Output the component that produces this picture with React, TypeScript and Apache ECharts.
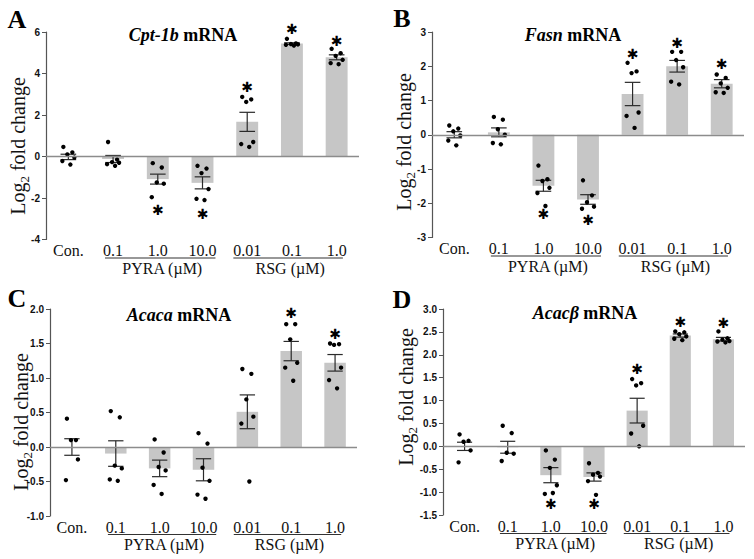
import React, { useEffect, useRef } from 'react';
import * as echarts from 'echarts';

// ---------- data ----------
const categories = ['Con.', '0.1', '1.0', '10.0', '0.01', '0.1', '1.0'];
const groupNames = ['PYRA (µM)', 'RSG (µM)'];
const groupSpans = [[1, 3], [4, 6]];

// A: Cpt-1b
const cptMeans = [-0.02, -0.12, -1.09, -1.27, 1.67, 5.44, 4.78];
const cptSems = [0.13, 0.17, 0.24, 0.29, 0.46, 0.04, 0.12];
const cptPoints = [
  [0.46, 0.2, 0.1, -0.05, -0.22, -0.39],
  [0.7, -0.15, -0.27, -0.3, -0.37, -0.45],
  [-0.32, -0.53, -1.25, -1.31, -1.96],
  [-0.45, -0.58, -0.8, -1.57, -2.04, -2.1],
  [2.87, 2.75, 2.63, 0.7, 0.6, 0.46],
  [5.67, 5.45, 5.42, 5.4, 5.38, 5.35],
  [5.19, 4.98, 4.85, 4.66, 4.5, 4.45],
];
const cptStars = [null, null, -2.57, -2.76, 3.33, 6.14, 5.59];

// B: Fasn
const fasnMeans = [0.0, 0.07, -1.49, -1.89, 1.19, 2.0, 1.49];
const fasnSems = [0.09, 0.13, 0.16, 0.14, 0.34, 0.17, 0.12];
const fasnPoints = [
  [0.27, 0.18, 0.1, -0.02, -0.17, -0.31],
  [0.52, 0.44, 0.16, 0.0, -0.24, -0.28],
  [-0.9, -1.3, -1.35, -1.55, -1.7, -2.08],
  [-1.33, -1.77, -1.97, -2.1, -2.16],
  [2.1, 1.85, 1.8, 0.65, 0.55, 0.2],
  [2.42, 2.42, 2.18, 1.97, 1.55, 1.47],
  [1.76, 1.66, 1.5, 1.37, 1.24, 1.22],
];
const fasnStars = [null, null, -2.32, -2.5, 2.36, 2.67, 2.07];

// C: Acaca
const acacaMeans = [0.0, -0.095, -0.31, -0.33, 0.51, 1.39, 1.22];
const acacaSems = [0.12, 0.185, 0.12, 0.16, 0.245, 0.14, 0.12];
const acacaPoints = [
  [0.41, 0.1, 0.1, -0.18, -0.48],
  [0.52, 0.43, -0.27, -0.31, -0.47, -0.49],
  [0.11, -0.08, -0.29, -0.34, -0.55, -0.68],
  [0.2, 0.05, -0.3, -0.49, -0.69, -0.75],
  [1.13, 1.06, 0.69, 0.44, 0.34, -0.5],
  [1.78, 1.78, 1.56, 1.22, 1.15, 0.96],
  [1.5, 1.49, 1.48, 1.15, 0.97, 0.85],
];
const acacaStars = [null, null, null, null, null, 1.94, 1.64];

// D: Acacb
const acacbMeans = [0.0, -0.02, -0.63, -0.67, 0.78, 2.42, 2.34];
const acacbSems = [0.09, 0.13, 0.165, 0.09, 0.27, 0.035, 0.04];
const acacbPoints = [
  [0.26, 0.12, 0.1, -0.09, -0.35],
  [0.45, 0.29, -0.14, -0.16, -0.32],
  [-0.09, -0.29, -0.47, -0.85, -1.04, -1.02],
  [-0.37, -0.58, -0.62, -0.66, -0.76, -1.06],
  [1.47, 1.38, 1.33, 0.45, 0.28, 0.0],
  [2.51, 2.49, 2.45, 2.4, 2.35, 2.32],
  [2.51, 2.36, 2.33, 2.3, 2.29, 2.27],
];
const acacbStars = [null, null, -1.25, -1.27, 1.69, 2.71, 2.69];

// ---------- layout ----------
const panels = [
  {
    letter: 'A', gene: 'Cpt-1b', means: cptMeans, sems: cptSems, points: cptPoints, stars: cptStars,
    min: -4, max: 6, interval: 2, dec: 0,
    grid: { left: 46, top: 32, width: 313, height: 207.5 },
    letterPos: [17, 19], titlePos: [183, 35], yNamePos: [18, 146],
  },
  {
    letter: 'B', gene: 'Fasn', means: fasnMeans, sems: fasnSems, points: fasnPoints, stars: fasnStars,
    min: -3, max: 3, interval: 1, dec: 0,
    grid: { left: 432, top: 32, width: 312, height: 205.5 },
    letterPos: [402, 18], titlePos: [573, 35], yNamePos: [404, 142],
  },
  {
    letter: 'C', gene: 'Acaca', means: acacaMeans, sems: acacaSems, points: acacaPoints, stars: acacaStars,
    min: -1, max: 2, interval: 0.5, dec: 1,
    grid: { left: 50, top: 309, width: 307, height: 207 },
    letterPos: [17, 298], titlePos: [179, 315], yNamePos: [21, 422],
  },
  {
    letter: 'D', gene: 'Acacβ', means: acacbMeans, sems: acacbSems, points: acacbPoints, stars: acacbStars,
    min: -1.5, max: 3, interval: 0.5, dec: 1,
    grid: { left: 443, top: 309, width: 302, height: 206 },
    letterPos: [402, 299], titlePos: [585, 313], yNamePos: [406, 397],
  },
];

const jitter = [-5, 4, -1, 6, -6, 2];
const SERIF = '"Liberation Serif", "Times New Roman", serif';
const SANS = '"Liberation Sans", Arial, sans-serif';

function buildOption() {
  const grid: any[] = [];
  const xAxis: any[] = [];
  const yAxis: any[] = [];
  const series: any[] = [];
  const graphic: any[] = [];

  panels.forEach((p, gi) => {
    grid.push({ ...p.grid, containLabel: false, outerBoundsMode: 'none' });
    xAxis.push({
      gridIndex: gi, type: 'category', data: categories,
      axisLine: { show: false, onZero: false }, axisTick: { show: false },
      axisLabel: { interval: 0, fontFamily: SERIF, fontSize: 16, color: '#111', margin: 3 },
      splitLine: { show: false },
    });
    yAxis.push({
      gridIndex: gi, type: 'value', min: p.min, max: p.max, interval: p.interval,
      axisLine: { show: true, onZero: false, lineStyle: { color: '#555', width: 1.2 } },
      axisTick: { show: true, length: 4, lineStyle: { color: '#555', width: 1 } },
      axisLabel: {
        fontFamily: SANS, fontWeight: 'bold', fontSize: 10, color: '#111', margin: 6,
        formatter: (v: number) => (Math.abs(v) < 1e-9 ? 0 : v).toFixed(p.dec),
      },
      splitLine: { show: false },
    });

    series.push({
      type: 'bar', xAxisIndex: gi, yAxisIndex: gi, data: p.means, barWidth: '49%',
      itemStyle: { color: '#c6c6c6' }, silent: true, z: 1,
      markLine: {
        silent: true, symbol: 'none', label: { show: false },
        lineStyle: { color: '#8c8c8c', width: 1.3, type: 'solid' },
        data: [{ yAxis: 0 }],
      },
    });

    series.push({
      type: 'custom', xAxisIndex: gi, yAxisIndex: gi, z: 3, silent: true,
      data: p.means.map((m, i) => [i, m - p.sems[i], m + p.sems[i]]),
      encode: { x: 0, y: [1, 2] },
      renderItem: (params: any, api: any) => {
        const lo = api.coord([api.value(0), api.value(1)]);
        const hi = api.coord([api.value(0), api.value(2)]);
        const band = api.size([1, 0])[0];
        const h = band * 0.175;
        const st = { stroke: '#2a2a2a', lineWidth: 1.2 };
        return {
          type: 'group',
          children: [
            { type: 'line', shape: { x1: lo[0], y1: lo[1], x2: hi[0], y2: hi[1] }, style: st },
            { type: 'line', shape: { x1: lo[0] - h, y1: lo[1], x2: lo[0] + h, y2: lo[1] }, style: st },
            { type: 'line', shape: { x1: hi[0] - h, y1: hi[1], x2: hi[0] + h, y2: hi[1] }, style: st },
          ],
        };
      },
    });

    const dots: any[] = [];
    p.points.forEach((arr, ci) => arr.forEach((v, k) => dots.push([ci, v, k])));
    series.push({
      type: 'custom', xAxisIndex: gi, yAxisIndex: gi, z: 4, silent: true,
      data: dots, encode: { x: 0, y: 1 },
      renderItem: (params: any, api: any) => {
        const c = api.coord([api.value(0), api.value(1)]);
        const k = api.value(2);
        return {
          type: 'circle',
          shape: { cx: c[0] + jitter[k % jitter.length], cy: c[1], r: 2.2 },
          style: { fill: '#000' },
        };
      },
    });

    const stars: any[] = [];
    p.stars.forEach((s, ci) => { if (s !== null) stars.push([ci, s]); });
    series.push({
      type: 'custom', xAxisIndex: gi, yAxisIndex: gi, z: 5, silent: true, clip: false,
      data: stars, encode: { x: 0, y: 1 },
      renderItem: (params: any, api: any) => {
        const c = api.coord([api.value(0), api.value(1)]);
        return {
          type: 'text',
          style: {
            text: '✱', x: c[0], y: c[1], fill: '#000',
            fontSize: 14, fontFamily: '"DejaVu Sans", sans-serif',
            align: 'center', verticalAlign: 'middle',
          },
        };
      },
    });

    series.push({
      type: 'custom', xAxisIndex: gi, yAxisIndex: gi, z: 5, silent: true, clip: false,
      data: [[0, 0]], encode: { x: 0, y: 1 },
      renderItem: (params: any, api: any) => {
        const cs = params.coordSys;
        const band = api.size([1, 0])[0];
        const bottom = cs.y + cs.height;
        const children: any[] = [];
        const ext = [[-0.18, 0.29], [-0.31, 0.14]];
        groupSpans.forEach((span, gIdx) => {
          const x1 = api.coord([span[0], 0])[0] + ext[gIdx][0] * band;
          const x2 = api.coord([span[1], 0])[0] + ext[gIdx][1] * band;
          children.push({
            type: 'line', shape: { x1, y1: bottom + 18.5, x2, y2: bottom + 18.5 },
            style: { stroke: '#333', lineWidth: 1.2 },
          });
          children.push({
            type: 'text',
            style: {
              text: groupNames[gIdx], x: (x1 + x2) / 2 + 2, y: bottom + 28.5, fill: '#111',
              fontSize: 16, fontFamily: SERIF, align: 'center', verticalAlign: 'middle',
            },
          });
        });
        return { type: 'group', children };
      },
    });

    graphic.push({
      type: 'text', x: p.letterPos[0], y: p.letterPos[1],
      style: {
        text: p.letter, fill: '#000', font: `bold 26px ${SERIF}`,
        align: 'center', verticalAlign: 'middle',
      },
    });
    graphic.push({
      type: 'text', x: p.titlePos[0], y: p.titlePos[1],
      style: {
        text: `{i|${p.gene}}{n| mRNA}`, align: 'center', verticalAlign: 'middle',
        rich: {
          i: { fontStyle: 'italic', fontWeight: 'bold', fontSize: 18, fontFamily: SERIF, fill: '#000' },
          n: { fontWeight: 'bold', fontSize: 18, fontFamily: SERIF, fill: '#000' },
        },
      },
    });
    graphic.push({
      type: 'text', x: p.yNamePos[0], y: p.yNamePos[1], rotation: Math.PI / 2,
      style: {
        text: '{a|Log}{s|2}{a| fold change}', align: 'center', verticalAlign: 'middle',
        rich: {
          a: { fontSize: 20, fontFamily: SERIF, fill: '#111', lineHeight: 25 },
          s: { fontSize: 13, fontFamily: SERIF, fill: '#111', lineHeight: 13, verticalAlign: 'bottom' },
        },
      },
    });
  });

  return {
    animation: false,
    backgroundColor: '#fff',
    grid, xAxis, yAxis, series, graphic,
  };
}

export default function App() {
  const ref = useRef<HTMLDivElement>(null);
  useEffect(() => {
    if (!ref.current) return;
    const chart = echarts.init(ref.current, undefined, { renderer: 'svg' });
    chart.setOption(buildOption() as any);
    return () => chart.dispose();
  }, []);
  return (
    <div
      ref={ref}
      style={{ position: 'fixed', left: 0, top: 0, width: 754, height: 559, background: '#fff' }}
    />
  );
}
